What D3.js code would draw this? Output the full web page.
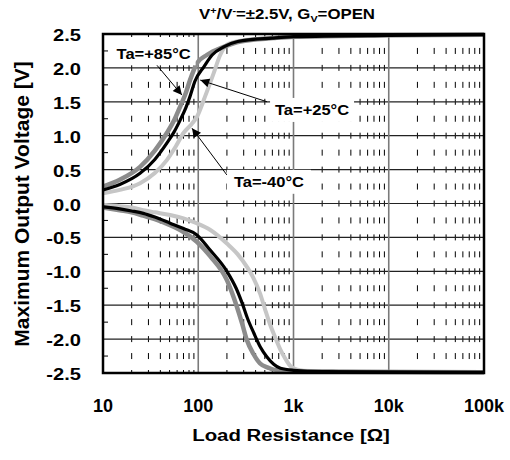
<!DOCTYPE html>
<html>
<head>
<meta charset="utf-8">
<script src="https://cdn.jsdelivr.net/npm/d3@7"></script>
<style>
  body { margin: 0; background: #fff; }
  text { font-family: "Liberation Sans", Arial, sans-serif; font-weight: bold; }
</style>
</head>
<body>
<div id="chart"></div>
<script>
// load resistance [ohm], output voltage [V]
const up85 = [[10,0.25],[15,0.35],[24.5,0.54],[35,0.78],[46.8,1.04],[56,1.23],[64.6,1.43],[74,1.63],[82,1.82],[90,1.97],[97,2.07],[123,2.19],[185,2.31],[277,2.39],[617,2.44],[1000,2.46],[3000,2.47],[10000,2.48],[100000,2.49]]
const up25 = [[10,0.2],[15,0.28],[24.5,0.445],[35,0.65],[46.8,0.89],[56,1.06],[64.6,1.23],[74,1.41],[82,1.58],[92,1.8],[115,2.02],[140,2.19],[185,2.31],[260,2.39],[600,2.44],[1000,2.46],[10000,2.48],[100000,2.49]]
const upM40 = [[10,0.15],[15,0.2],[24.5,0.3],[35,0.45],[46.8,0.64],[58,0.84],[70,1.04],[85,1.17],[97,1.28],[118,1.58],[145,1.92],[170,2.19],[200,2.34],[280,2.4],[600,2.44],[1000,2.46],[10000,2.48],[100000,2.49]]
const lo25 = [[10,-0.05],[15,-0.08],[20,-0.11],[26.5,-0.145],[35,-0.2],[50.7,-0.29],[70,-0.37],[96,-0.46],[134,-0.69],[200,-1.0],[250,-1.25],[289,-1.47],[330,-1.7],[383,-1.91],[450,-2.12],[524,-2.26],[620,-2.37],[730,-2.43],[1000,-2.46],[2000,-2.48],[100000,-2.49]]
const lo85 = [[10,-0.06],[15,-0.1],[20,-0.13],[26.5,-0.18],[35,-0.23],[50.7,-0.32],[70,-0.42],[96,-0.56],[134,-0.78],[200,-1.13],[254,-1.52],[290,-1.78],[323,-2.01],[380,-2.22],[446,-2.36],[540,-2.42],[620,-2.45],[1000,-2.47],[3000,-2.48],[100000,-2.49]]
const loM40 = [[10,-0.02],[15,-0.04],[20,-0.06],[26.5,-0.1],[35,-0.13],[50.7,-0.17],[70,-0.22],[96,-0.29],[134,-0.39],[200,-0.59],[260,-0.75],[323,-0.93],[380,-1.1],[446,-1.33],[500,-1.55],[563,-1.77],[640,-1.97],[730,-2.16],[830,-2.3],[930,-2.4],[1100,-2.45],[1500,-2.47],[5000,-2.48],[100000,-2.49]]

const xTicks = [10, 100, 1000, 10000, 100000]
const xTickLabels = ["10", "100", "1k", "10k", "100k"]
const yTicks = [2.5, 2.0, 1.5, 1.0, 0.5, 0.0, -0.5, -1.0, -1.5, -2.0, -2.5]

// label text, label centre [R, V], arrow start and tip [R, V]
const notes = [
  {text: "Ta=+85°C", at: [34, 2.215], from: [35.3, 2.07], to: [67.4, 1.6]},
  {text: "Ta=+25°C", at: [1566, 1.38], from: [528, 1.5], to: [105, 1.82]},
  {text: "Ta=-40°C", at: [552, 0.32], from: [200, 0.42], to: [86, 1.11]},
]

const width = 510, height = 460
const mLeft = 103, mRight = 484, mTop = 34, mBottom = 373

const svg = d3.select("#chart").append("svg")
    .attr("width", width)
    .attr("height", height)

const x = d3.scaleLog().domain([10, 100000]).range([mLeft, mRight])
const y = d3.scaleLinear().domain([-2.5, 2.5]).range([mBottom, mTop])

// grid
let minors = []
for (let d = 10; d < 100000; d *= 10) {
    for (let k = 2; k <= 9; k++) minors.push(d * k)
}
const halfStep = (y(0) - y(0.5)) / 2
svg.append("g").selectAll("line").data(minors).enter().append("line")
    .attr("x1", d => x(d)).attr("x2", d => x(d))
    .attr("y1", mTop).attr("y2", mBottom)
    .attr("stroke", "#000").attr("stroke-width", 1)
    .attr("stroke-dasharray", "6," + (halfStep - 6))
    .attr("stroke-dashoffset", 3)

svg.append("g").selectAll("line").data(yTicks.slice(1, -1)).enter().append("line")
    .attr("x1", mLeft).attr("x2", mRight)
    .attr("y1", d => y(d)).attr("y2", d => y(d))
    .attr("stroke", "#222").attr("stroke-width", 1.2)

svg.append("g").selectAll("line").data(xTicks.slice(1, -1)).enter().append("line")
    .attr("x1", d => x(d)).attr("x2", d => x(d))
    .attr("y1", mTop).attr("y2", mBottom)
    .attr("stroke", "#7a7a7a").attr("stroke-width", 1.6)

// small left ticks at quarter volts
const quarter = d3.range(-2.25, 2.5, 0.5)
svg.append("g").selectAll("line").data(quarter).enter().append("line")
    .attr("x1", mLeft).attr("x2", mLeft + 5)
    .attr("y1", d => y(d)).attr("y2", d => y(d))
    .attr("stroke", "#000").attr("stroke-width", 1)

// curves
const line = d3.line()
    .x(d => x(d[0])).y(d => y(d[1]))
    .curve(d3.curveMonotoneX)

const series = [
  {data: upM40, color: "#c6c6c6", w: 4},
  {data: loM40, color: "#c6c6c6", w: 4},
  {data: up85, color: "#8c8c8c", w: 4.5},
  {data: lo85, color: "#8c8c8c", w: 4.5},
  {data: up25, color: "#000", w: 3.2},
  {data: lo25, color: "#000", w: 3.2},
]
svg.append("g").selectAll("path").data(series).enter().append("path")
    .attr("d", d => line(d.data))
    .attr("fill", "none")
    .attr("stroke", d => d.color)
    .attr("stroke-width", d => d.w)

// frame
svg.append("rect")
    .attr("x", mLeft).attr("y", mTop)
    .attr("width", mRight - mLeft).attr("height", mBottom - mTop)
    .attr("fill", "none").attr("stroke", "#000").attr("stroke-width", 2.5)

// annotations
svg.append("defs").append("marker")
    .attr("id", "arr").attr("viewBox", "0 0 10 10")
    .attr("refX", 10).attr("refY", 5)
    .attr("markerWidth", 10).attr("markerHeight", 9)
    .attr("markerUnits", "userSpaceOnUse")
    .attr("orient", "auto")
    .append("path").attr("d", "M0,0L10,5L0,10z").attr("fill", "#000")

const ann = svg.append("g")
ann.selectAll("line").data(notes).enter().append("line")
    .attr("x1", d => x(d.from[0])).attr("y1", d => y(d.from[1]))
    .attr("x2", d => x(d.to[0])).attr("y2", d => y(d.to[1]))
    .attr("stroke", "#000").attr("stroke-width", 1)
    .attr("marker-end", "url(#arr)")

ann.selectAll("rect").data(notes).enter().append("rect")
    .attr("x", d => x(d.at[0]) - 42).attr("y", d => y(d.at[1]) - 12)
    .attr("width", 84).attr("height", 24)
    .attr("fill", "#fff")

ann.selectAll("text").data(notes).enter().append("text")
    .attr("transform", d => "translate(" + x(d.at[0]) + "," + (y(d.at[1]) + 5.5) + ") scale(1.1,1)")
    .attr("text-anchor", "middle")
    .attr("font-size", 15)
    .text(d => d.text)

// tick labels
svg.append("g").selectAll("text").data(yTicks).enter().append("text")
    .attr("transform", d => "translate(81," + (y(d) + 7) + ") scale(1.22,1)")
    .attr("text-anchor", "end")
    .attr("font-size", 16.5)
    .text(d => d.toFixed(1))

svg.append("g").selectAll("text").data(xTicks).enter().append("text")
    .attr("x", d => x(d)).attr("y", 412)
    .attr("text-anchor", "middle")
    .attr("font-size", 18)
    .text((d, i) => xTickLabels[i])

svg.append("text")
    .attr("transform", "translate(291,441) scale(1.2,1)")
    .attr("text-anchor", "middle")
    .attr("font-size", 17)
    .text("Load Resistance [Ω]")

svg.append("text")
    .attr("transform", "translate(29,204) rotate(-90)")
    .attr("text-anchor", "middle")
    .attr("font-size", 21)
    .text("Maximum Output Voltage [V]")

const title = svg.append("text")
    .attr("transform", "translate(287,19) scale(1.2,1)")
    .attr("text-anchor", "middle")
    .attr("font-size", 14)
title.append("tspan").text("V")
title.append("tspan").attr("dy", -5).attr("font-size", 9).text("+")
title.append("tspan").attr("dy", 5).text("/V")
title.append("tspan").attr("dy", -5).attr("font-size", 9).text("-")
title.append("tspan").attr("dy", 5).text("=±2.5V, G")
title.append("tspan").attr("dy", 3).attr("font-size", 9).text("V")
title.append("tspan").attr("dy", -3).text("=OPEN")
</script>
</body>
</html>
